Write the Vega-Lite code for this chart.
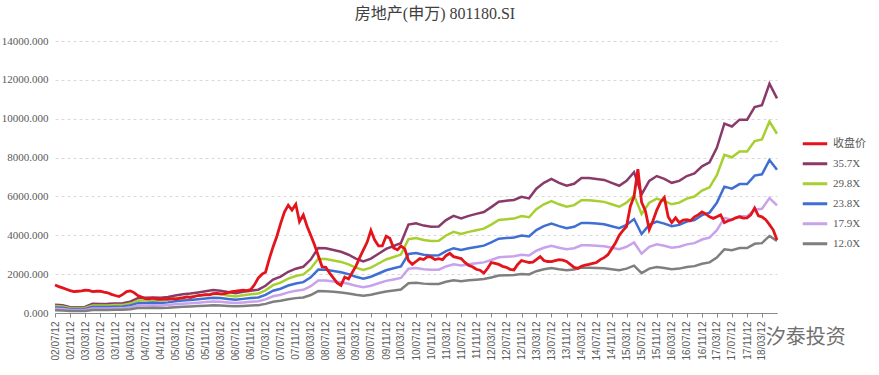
{
"$schema":"https://vega.github.io/schema/vega-lite/v6.json",
"width":722,"height":272,
"autosize":"none",
"padding":{"left":55,"top":41,"right":102,"bottom":62},
"background":"white",
"title":{"text":"房地产(申万) 801180.SI","font":"Liberation Serif, Noto Sans CJK SC","fontSize":16,"fontWeight":"normal","color":"#404040","anchor":"middle","dx":19,"offset":13},
"data":{"values":[
{"d":"2002-07-12","r":1440,"a":430,"b":359,"c":287,"e":215,"f":144},
{"d":"2002-08-12","r":1360},
{"d":"2002-09-12","r":1290,"a":400,"b":334,"c":267,"e":200,"f":134},
{"d":"2002-10-12","r":1220},
{"d":"2002-11-12","r":1150,"a":300,"b":251,"c":200,"e":150,"f":101},
{"d":"2002-12-12","r":1100},
{"d":"2003-01-12","r":1120,"a":300,"b":251,"c":200,"e":150,"f":101},
{"d":"2003-02-12","r":1140},
{"d":"2003-03-12","r":1170,"a":310,"b":259,"c":207,"e":155,"f":104},
{"d":"2003-04-12","r":1160},
{"d":"2003-05-12","r":1100,"a":470,"b":392,"c":313,"e":235,"f":158},
{"d":"2003-06-12","r":1120},
{"d":"2003-07-12","r":1130,"a":460,"b":384,"c":307,"e":230,"f":155},
{"d":"2003-08-12","r":1080},
{"d":"2003-09-12","r":1040,"a":470,"b":392,"c":313,"e":235,"f":158},
{"d":"2003-10-12","r":960},
{"d":"2003-11-12","r":900,"a":490,"b":409,"c":327,"e":245,"f":165},
{"d":"2003-12-12","r":850},
{"d":"2004-01-12","r":960,"a":500,"b":418,"c":334,"e":251,"f":168},
{"d":"2004-02-12","r":1100},
{"d":"2004-03-12","r":1140,"a":580,"b":484,"c":387,"e":291,"f":195},
{"d":"2004-04-12","r":1050},
{"d":"2004-05-12","r":900,"a":760,"b":635,"c":507,"e":381,"f":255},
{"d":"2004-06-12","r":820},
{"d":"2004-07-12","r":740,"a":780,"b":651,"c":520,"e":391,"f":262},
{"d":"2004-08-12","r":730},
{"d":"2004-09-12","r":760,"a":800,"b":668,"c":534,"e":401,"f":269},
{"d":"2004-10-12","r":720},
{"d":"2004-11-12","r":700,"a":780,"b":651,"c":520,"e":391,"f":262},
{"d":"2004-12-12","r":730},
{"d":"2005-01-12","r":720,"a":820,"b":685,"c":547,"e":411,"f":276},
{"d":"2005-02-12","r":740},
{"d":"2005-03-12","r":720,"a":900,"b":752,"c":600,"e":451,"f":302},
{"d":"2005-04-12","r":750},
{"d":"2005-05-12","r":780,"a":960,"b":802,"c":640,"e":481,"f":323},
{"d":"2005-06-12","r":830},
{"d":"2005-07-12","r":800,"a":1000,"b":835,"c":667,"e":501,"f":336},
{"d":"2005-08-12","r":850},
{"d":"2005-09-12","r":900,"a":1060,"b":885,"c":707,"e":531,"f":356},
{"d":"2005-10-12","r":920},
{"d":"2005-11-12","r":950,"a":1120,"b":935,"c":747,"e":561,"f":376},
{"d":"2005-12-12","r":930},
{"d":"2006-01-12","r":1000,"a":1180,"b":985,"c":787,"e":591,"f":396},
{"d":"2006-02-12","r":1010},
{"d":"2006-03-12","r":980,"a":1150,"b":960,"c":767,"e":576,"f":386},
{"d":"2006-04-12","r":1000},
{"d":"2006-05-12","r":1050,"a":1080,"b":902,"c":720,"e":541,"f":363},
{"d":"2006-06-12","r":1100},
{"d":"2006-07-12","r":1120,"a":1020,"b":852,"c":680,"e":511,"f":343},
{"d":"2006-08-12","r":1150},
{"d":"2006-09-12","r":1180,"a":1090,"b":910,"c":727,"e":546,"f":366},
{"d":"2006-10-12","r":1150},
{"d":"2006-11-12","r":1200,"a":1150,"b":960,"c":767,"e":576,"f":386},
{"d":"2006-12-12","r":1450},
{"d":"2007-01-12","r":1800,"a":1200,"b":1002,"c":800,"e":601,"f":403},
{"d":"2007-02-12","r":2000},
{"d":"2007-03-12","r":2100,"a":1400,"b":1169,"c":934,"e":701,"f":470},
{"d":"2007-04-12","r":2800},
{"d":"2007-05-12","r":3400,"a":1720,"b":1436,"c":1147,"e":862,"f":578},
{"d":"2007-06-12","r":3950},
{"d":"2007-07-12","r":4600,"a":1870,"b":1561,"c":1247,"e":937,"f":628},
{"d":"2007-08-12","r":5200},
{"d":"2007-09-12","r":5550,"a":2120,"b":1770,"c":1414,"e":1062,"f":712},
{"d":"2007-10-12","r":5300},
{"d":"2007-11-12","r":5600,"a":2280,"b":1904,"c":1521,"e":1142,"f":766},
{"d":"2007-12-12","r":4700},
{"d":"2008-01-12","r":5050,"a":2380,"b":1987,"c":1587,"e":1192,"f":800},
{"d":"2008-02-12","r":4450},
{"d":"2008-03-12","r":4000,"a":2750,"b":2296,"c":1834,"e":1378,"f":924},
{"d":"2008-04-12","r":3500},
{"d":"2008-05-12","r":2950,"a":3350,"b":2797,"c":2234,"e":1678,"f":1126},
{"d":"2008-06-12","r":2380},
{"d":"2008-07-12","r":2350,"a":3330,"b":2781,"c":2221,"e":1668,"f":1119},
{"d":"2008-08-12","r":2050},
{"d":"2008-09-12","r":1800,"a":3240,"b":2705,"c":2161,"e":1623,"f":1089},
{"d":"2008-10-12","r":1550},
{"d":"2008-11-12","r":1420,"a":3150,"b":2630,"c":2101,"e":1578,"f":1058},
{"d":"2008-12-12","r":1850},
{"d":"2009-01-12","r":1750,"a":3000,"b":2505,"c":2001,"e":1503,"f":1008},
{"d":"2009-02-12","r":2100},
{"d":"2009-03-12","r":2400,"a":2800,"b":2338,"c":1868,"e":1403,"f":941},
{"d":"2009-04-12","r":2850},
{"d":"2009-05-12","r":3250,"a":2650,"b":2213,"c":1768,"e":1328,"f":890},
{"d":"2009-06-12","r":3650},
{"d":"2009-07-12","r":4250,"a":2800,"b":2338,"c":1868,"e":1403,"f":941},
{"d":"2009-08-12","r":3750},
{"d":"2009-09-12","r":3450,"a":3050,"b":2547,"c":2034,"e":1528,"f":1025},
{"d":"2009-10-12","r":3450},
{"d":"2009-11-12","r":3950,"a":3300,"b":2756,"c":2201,"e":1653,"f":1109},
{"d":"2009-12-12","r":3850},
{"d":"2010-01-12","r":3350,"a":3450,"b":2881,"c":2301,"e":1728,"f":1159},
{"d":"2010-02-12","r":3250},
{"d":"2010-03-12","r":3450,"a":3600,"b":3006,"c":2401,"e":1804,"f":1210},
{"d":"2010-04-12","r":3300},
{"d":"2010-05-12","r":2700,"a":4550,"b":3799,"c":3035,"e":2280,"f":1529},
{"d":"2010-06-12","r":2500},
{"d":"2010-07-12","r":2650,"a":4620,"b":3858,"c":3082,"e":2315,"f":1552},
{"d":"2010-08-12","r":2800},
{"d":"2010-09-12","r":2750,"a":4500,"b":3758,"c":3002,"e":2255,"f":1512},
{"d":"2010-10-12","r":2900},
{"d":"2010-11-12","r":2880,"a":4440,"b":3707,"c":2961,"e":2224,"f":1492},
{"d":"2010-12-12","r":2750},
{"d":"2011-01-12","r":2800,"a":4450,"b":3716,"c":2968,"e":2229,"f":1495},
{"d":"2011-02-12","r":2750},
{"d":"2011-03-12","r":2950,"a":4780,"b":3991,"c":3188,"e":2395,"f":1606},
{"d":"2011-04-12","r":3070},
{"d":"2011-05-12","r":2900,"a":5000,"b":4175,"c":3335,"e":2505,"f":1680},
{"d":"2011-06-12","r":2850},
{"d":"2011-07-12","r":2800,"a":4870,"b":4066,"c":3248,"e":2440,"f":1636},
{"d":"2011-08-12","r":2600},
{"d":"2011-09-12","r":2450,"a":5000,"b":4175,"c":3335,"e":2505,"f":1680},
{"d":"2011-10-12","r":2380},
{"d":"2011-11-12","r":2250,"a":5100,"b":4259,"c":3402,"e":2555,"f":1714},
{"d":"2011-12-12","r":2200},
{"d":"2012-01-12","r":2050,"a":5200,"b":4342,"c":3468,"e":2605,"f":1747},
{"d":"2012-02-12","r":2300},
{"d":"2012-03-12","r":2600,"a":5450,"b":4551,"c":3635,"e":2730,"f":1831},
{"d":"2012-04-12","r":2550},
{"d":"2012-05-12","r":2500,"a":5730,"b":4785,"c":3822,"e":2871,"f":1925},
{"d":"2012-06-12","r":2400},
{"d":"2012-07-12","r":2350,"a":5780,"b":4826,"c":3855,"e":2896,"f":1942},
{"d":"2012-08-12","r":2250},
{"d":"2012-09-12","r":2220,"a":5820,"b":4860,"c":3882,"e":2916,"f":1956},
{"d":"2012-10-12","r":2500},
{"d":"2012-11-12","r":2700,"a":5980,"b":4993,"c":3989,"e":2996,"f":2009},
{"d":"2012-12-12","r":2650},
{"d":"2013-01-12","r":2600,"a":5900,"b":4927,"c":3935,"e":2956,"f":1982},
{"d":"2013-02-12","r":2620},
{"d":"2013-03-12","r":2750,"a":6400,"b":5344,"c":4269,"e":3206,"f":2150},
{"d":"2013-04-12","r":2900},
{"d":"2013-05-12","r":2700,"a":6700,"b":5595,"c":4469,"e":3357,"f":2251},
{"d":"2013-06-12","r":2650},
{"d":"2013-07-12","r":2640,"a":6900,"b":5762,"c":4602,"e":3457,"f":2318},
{"d":"2013-08-12","r":2700},
{"d":"2013-09-12","r":2750,"a":6700,"b":5595,"c":4469,"e":3357,"f":2251},
{"d":"2013-10-12","r":2720},
{"d":"2013-11-12","r":2650,"a":6550,"b":5469,"c":4369,"e":3282,"f":2201},
{"d":"2013-12-12","r":2500},
{"d":"2014-01-12","r":2350,"a":6650,"b":5553,"c":4436,"e":3332,"f":2234},
{"d":"2014-02-12","r":2300},
{"d":"2014-03-12","r":2400,"a":6950,"b":5803,"c":4636,"e":3482,"f":2335},
{"d":"2014-04-12","r":2470},
{"d":"2014-05-12","r":2500,"a":6950,"b":5803,"c":4636,"e":3482,"f":2335},
{"d":"2014-06-12","r":2550},
{"d":"2014-07-12","r":2600,"a":6900,"b":5762,"c":4602,"e":3457,"f":2318},
{"d":"2014-08-12","r":2750},
{"d":"2014-09-12","r":2850,"a":6850,"b":5720,"c":4569,"e":3432,"f":2302},
{"d":"2014-10-12","r":3000},
{"d":"2014-11-12","r":3300,"a":6700,"b":5595,"c":4469,"e":3357,"f":2251},
{"d":"2014-12-12","r":3600},
{"d":"2015-01-12","r":4000,"a":6550,"b":5469,"c":4369,"e":3282,"f":2201},
{"d":"2015-02-12","r":4250},
{"d":"2015-03-12","r":4450,"a":6800,"b":5678,"c":4536,"e":3407,"f":2285},
{"d":"2015-04-12","r":5500},
{"d":"2015-05-12","r":6000,"a":7250,"b":6054,"c":4836,"e":3632,"f":2436},
{"d":"2015-06-12","r":7400},
{"d":"2015-07-12","r":5700,"a":6100,"b":5094,"c":4069,"e":3056,"f":2050},
{"d":"2015-08-12","r":5250},
{"d":"2015-09-12","r":4300,"a":6800,"b":5678,"c":4536,"e":3407,"f":2285},
{"d":"2015-10-12","r":4750},
{"d":"2015-11-12","r":5300,"a":7050,"b":5887,"c":4702,"e":3532,"f":2369},
{"d":"2015-12-12","r":5700},
{"d":"2016-01-12","r":5950,"a":6900,"b":5762,"c":4602,"e":3457,"f":2318},
{"d":"2016-02-12","r":4950},
{"d":"2016-03-12","r":4650,"a":6700,"b":5595,"c":4469,"e":3357,"f":2251},
{"d":"2016-04-12","r":4900},
{"d":"2016-05-12","r":4650,"a":6800,"b":5678,"c":4536,"e":3407,"f":2285},
{"d":"2016-06-12","r":4780},
{"d":"2016-07-12","r":4800,"a":7050,"b":5887,"c":4702,"e":3532,"f":2369},
{"d":"2016-08-12","r":4750},
{"d":"2016-09-12","r":4950,"a":7180,"b":5995,"c":4789,"e":3597,"f":2412},
{"d":"2016-10-12","r":5050},
{"d":"2016-11-12","r":5200,"a":7550,"b":6304,"c":5036,"e":3783,"f":2537},
{"d":"2016-12-12","r":5100},
{"d":"2017-01-12","r":4950,"a":7750,"b":6471,"c":5169,"e":3883,"f":2604},
{"d":"2017-02-12","r":4870},
{"d":"2017-03-12","r":4950,"a":8500,"b":7098,"c":5670,"e":4259,"f":2856},
{"d":"2017-04-12","r":5050},
{"d":"2017-05-12","r":4650,"a":9750,"b":8141,"c":6503,"e":4885,"f":3276},
{"d":"2017-06-12","r":4750},
{"d":"2017-07-12","r":4800,"a":9600,"b":8016,"c":6403,"e":4810,"f":3226},
{"d":"2017-08-12","r":4900},
{"d":"2017-09-12","r":4950,"a":9950,"b":8308,"c":6637,"e":4985,"f":3343},
{"d":"2017-10-12","r":4880},
{"d":"2017-11-12","r":4900,"a":9950,"b":8308,"c":6637,"e":4985,"f":3343},
{"d":"2017-12-12","r":5050},
{"d":"2018-01-12","r":5400,"a":10600,"b":8851,"c":7070,"e":5311,"f":3562},
{"d":"2018-02-12","r":5000},
{"d":"2018-03-12","r":4950,"a":10700,"b":8935,"c":7137,"e":5361,"f":3595},
{"d":"2018-04-12","r":4800},
{"d":"2018-05-12","r":4550,"a":11800,"b":9853,"c":7871,"e":5912,"f":3965},
{"d":"2018-06-12","r":4270},
{"d":"2018-07-12","r":3760,"a":11050,"b":9227,"c":7370,"e":5536,"f":3713}
]},
"encoding":{
 "x":{"field":"d","type":"temporal","title":null,
  "scale":{"type":"utc","domain":[{"year":2002,"month":7,"date":12,"utc":true},{"year":2018,"month":7,"date":12,"utc":true}]},
  "axis":{"format":"%y/%m/%d","labelAngle":270,"labelAlign":"right","labelBaseline":"middle","grid":false,"tickSize":4,"labelPadding":4,"labelFont":"Liberation Sans","labelFontSize":10,"labelColor":"#595959","domainColor":"#888888","tickColor":"#888888","labelOverlap":false,"labelFlush":false,
  "values":[
  {"year":2002,"month":7,"date":12,"utc":true},{"year":2002,"month":11,"date":12,"utc":true},
  {"year":2003,"month":3,"date":12,"utc":true},{"year":2003,"month":7,"date":12,"utc":true},{"year":2003,"month":11,"date":12,"utc":true},
  {"year":2004,"month":3,"date":12,"utc":true},{"year":2004,"month":7,"date":12,"utc":true},{"year":2004,"month":11,"date":12,"utc":true},
  {"year":2005,"month":3,"date":12,"utc":true},{"year":2005,"month":7,"date":12,"utc":true},{"year":2005,"month":11,"date":12,"utc":true},
  {"year":2006,"month":3,"date":12,"utc":true},{"year":2006,"month":7,"date":12,"utc":true},{"year":2006,"month":11,"date":12,"utc":true},
  {"year":2007,"month":3,"date":12,"utc":true},{"year":2007,"month":7,"date":12,"utc":true},{"year":2007,"month":11,"date":12,"utc":true},
  {"year":2008,"month":3,"date":12,"utc":true},{"year":2008,"month":7,"date":12,"utc":true},{"year":2008,"month":11,"date":12,"utc":true},
  {"year":2009,"month":3,"date":12,"utc":true},{"year":2009,"month":7,"date":12,"utc":true},{"year":2009,"month":11,"date":12,"utc":true},
  {"year":2010,"month":3,"date":12,"utc":true},{"year":2010,"month":7,"date":12,"utc":true},{"year":2010,"month":11,"date":12,"utc":true},
  {"year":2011,"month":3,"date":12,"utc":true},{"year":2011,"month":7,"date":12,"utc":true},{"year":2011,"month":11,"date":12,"utc":true},
  {"year":2012,"month":3,"date":12,"utc":true},{"year":2012,"month":7,"date":12,"utc":true},{"year":2012,"month":11,"date":12,"utc":true},
  {"year":2013,"month":3,"date":12,"utc":true},{"year":2013,"month":7,"date":12,"utc":true},{"year":2013,"month":11,"date":12,"utc":true},
  {"year":2014,"month":3,"date":12,"utc":true},{"year":2014,"month":7,"date":12,"utc":true},{"year":2014,"month":11,"date":12,"utc":true},
  {"year":2015,"month":3,"date":12,"utc":true},{"year":2015,"month":7,"date":12,"utc":true},{"year":2015,"month":11,"date":12,"utc":true},
  {"year":2016,"month":3,"date":12,"utc":true},{"year":2016,"month":7,"date":12,"utc":true},{"year":2016,"month":11,"date":12,"utc":true},
  {"year":2017,"month":3,"date":12,"utc":true},{"year":2017,"month":7,"date":12,"utc":true},{"year":2017,"month":11,"date":12,"utc":true},
  {"year":2018,"month":3,"date":12,"utc":true}
  ]}},
 "y":{"field":"v","type":"quantitative","title":null,
  "scale":{"domain":[0,14000],"nice":false},
  "axis":{"values":[0,2000,4000,6000,8000,10000,12000,14000],"format":".3f","grid":true,"gridDash":[3,3],"gridColor":"#d9d9d9","domain":false,"ticks":false,"labelPadding":7,"labelFont":"Liberation Serif","labelFontSize":11,"labelColor":"#595959","labelOverlap":false}}
},
"layer":[
{"transform":[{"fold":["a","b","c","e","f"],"as":["s","v"]},{"filter":"isValid(datum.v)"}],
 "mark":{"type":"line","strokeWidth":2.5},
 "encoding":{
 "color":{"field":"s","type":"nominal","sort":["r","a","b","c","e","f"],
  "scale":{"domain":["r","a","b","c","e","f"],"range":["#e3141b","#8a3a6a","#a6cf2f","#3f6fd2","#c8a2ea","#7f7f7f"]},
  "legend":{"title":null,"orient":"none","legendX":746,"legendY":93,"symbolType":"stroke","symbolSize":600,"symbolStrokeWidth":3,"labelFont":"Liberation Serif, Noto Sans CJK SC","labelFontSize":11,"labelColor":"#595959","rowPadding":0,"clipHeight":19.3,"labelOffset":4,"padding":0,
   "labelExpr":"datum.label=='r'?'收盘价':datum.label=='a'?'35.7X':datum.label=='b'?'29.8X':datum.label=='c'?'23.8X':datum.label=='e'?'17.9X':'12.0X'"}}
 }},
{"transform":[{"fold":["r"],"as":["s","v"]},{"filter":"isValid(datum.v)"}],
 "mark":{"type":"line","strokeWidth":2.8},
 "encoding":{
 "color":{"field":"s","type":"nominal"}
 }},
{"data":{"values":[{"t":"汐泰投资","d":"2019-03-01","v":-1300}]},
 "mark":{"type":"text","font":"Noto Sans CJK SC","fontSize":20,"fill":"#707070","align":"center","baseline":"middle","clip":false},
 "encoding":{"text":{"field":"t"}}}
],
"config":{"view":{"stroke":null}}
}
